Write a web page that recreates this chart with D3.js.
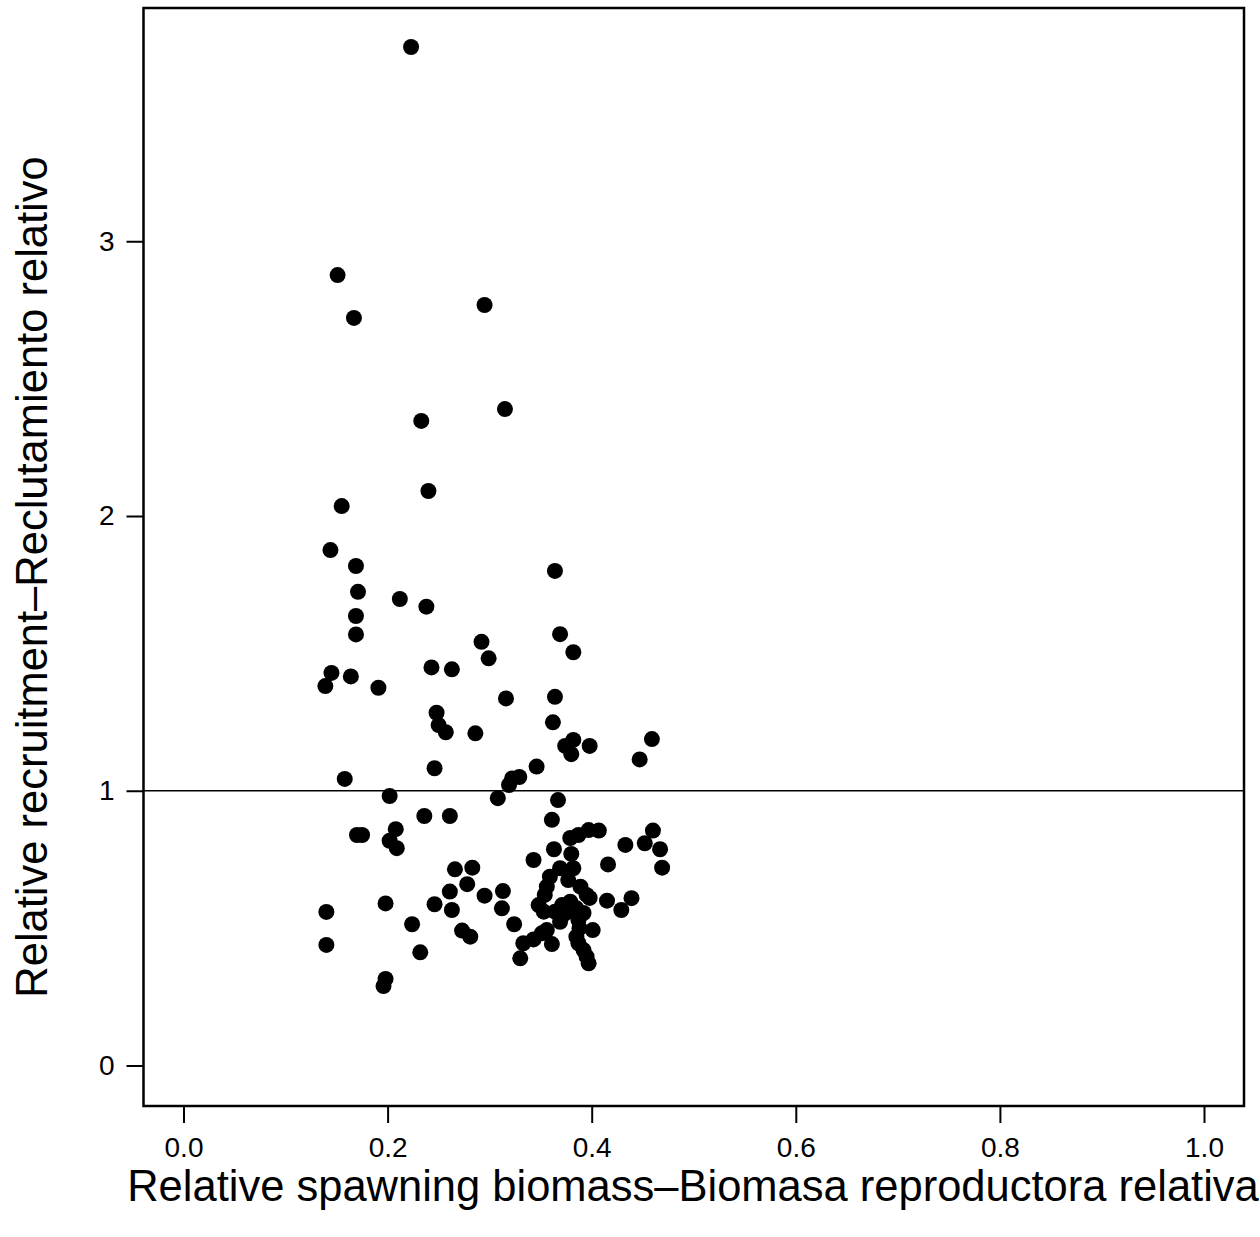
<!DOCTYPE html>
<html>
<head>
<meta charset="utf-8">
<script src="https://cdn.jsdelivr.net/npm/d3@7"></script>
<style>
  body { margin: 0; background: #fff; }
  svg { display: block; }
  text { font-family: "Liberation Sans", Arial, sans-serif; fill: #000; }
</style>
</head>
<body>
<svg id="chart" width="1260" height="1237"></svg>
<script>
// relative spawning biomass (x) and relative recruitment (y)
const biomass = [
  0.223, 0.151, 0.167, 0.295, 0.233, 0.315, 0.240, 0.155, 0.144, 0.169,
  0.364, 0.171, 0.212, 0.238, 0.169, 0.169, 0.369, 0.292, 0.382, 0.299,
  0.243, 0.263, 0.145, 0.139, 0.164, 0.191, 0.316, 0.364, 0.248, 0.250,
  0.257, 0.362, 0.286, 0.459, 0.374, 0.382, 0.380, 0.398, 0.447, 0.346,
  0.246, 0.322, 0.329, 0.319, 0.158, 0.202, 0.308, 0.367, 0.236, 0.261,
  0.170, 0.175, 0.208, 0.202, 0.209, 0.361, 0.379, 0.387, 0.397, 0.407,
  0.460, 0.363, 0.433, 0.452, 0.467, 0.343, 0.380, 0.416, 0.469, 0.382,
  0.369, 0.266, 0.283, 0.278, 0.261, 0.295, 0.313, 0.312, 0.246, 0.263,
  0.198, 0.140, 0.224, 0.273, 0.281, 0.140, 0.232, 0.198, 0.196, 0.324,
  0.359, 0.356, 0.354, 0.377, 0.389, 0.395, 0.398, 0.348, 0.353, 0.371,
  0.379, 0.385, 0.364, 0.374, 0.369, 0.387, 0.392, 0.401, 0.415, 0.429,
  0.439, 0.388, 0.333, 0.343, 0.351, 0.356, 0.361, 0.330, 0.385, 0.387,
  0.392, 0.395, 0.397
];
const recruitment = [
  3.707, 2.877, 2.721, 2.768, 2.346, 2.389, 2.091, 2.036, 1.876, 1.818,
  1.800, 1.724, 1.698, 1.670, 1.636, 1.569, 1.570, 1.542, 1.504, 1.482,
  1.449, 1.442, 1.429, 1.381, 1.416, 1.375, 1.336, 1.342, 1.284, 1.239,
  1.213, 1.249, 1.209, 1.188, 1.163, 1.185, 1.133, 1.163, 1.114, 1.088,
  1.082, 1.045, 1.050, 1.021, 1.043, 0.981, 0.973, 0.966, 0.908, 0.908,
  0.839, 0.839, 0.860, 0.818, 0.791, 0.894, 0.828, 0.839, 0.857, 0.855,
  0.855, 0.787, 0.803, 0.809, 0.787, 0.748, 0.770, 0.732, 0.720, 0.718,
  0.718, 0.714, 0.720, 0.660, 0.633, 0.618, 0.635, 0.572, 0.587, 0.566,
  0.590, 0.559, 0.514, 0.491, 0.469, 0.439, 0.412, 0.315, 0.289, 0.514,
  0.687, 0.651, 0.621, 0.675, 0.651, 0.621, 0.610, 0.584, 0.560, 0.584,
  0.596, 0.572, 0.560, 0.554, 0.523, 0.530, 0.555, 0.493, 0.600, 0.566,
  0.609, 0.500, 0.445, 0.459, 0.481, 0.493, 0.442, 0.390, 0.469, 0.445,
  0.420, 0.396, 0.372
];
const xTicks = [0, 0.2, 0.4, 0.6, 0.8, 1.0];
const yTicks = [0, 1, 2, 3];
const refLine = 1;

const svg = d3.select("#chart");
const box = { left: 143.5, top: 8, right: 1244, bottom: 1106 };

const x = d3.scaleLinear().domain([0, 1]).range([183.5, 1204]);
const y = d3.scaleLinear().domain([0, 3]).range([1065.5, 241.25]);

// x axis
const xAxis = svg.append("g")
    .attr("transform", "translate(0," + box.bottom + ")")
    .call(d3.axisBottom(x).tickValues(xTicks).tickFormat(d3.format(".1f"))
        .tickSize(17).tickPadding(14));
xAxis.select(".domain").remove();
xAxis.selectAll(".tick line").attr("stroke", "#000").attr("stroke-width", 2);
xAxis.selectAll(".tick text").attr("font-size", 28)
    .style("font-family", "'Liberation Sans', Arial, sans-serif");

// y axis
const yAxis = svg.append("g")
    .attr("transform", "translate(" + box.left + ",0)")
    .call(d3.axisLeft(y).tickValues(yTicks).tickFormat(d3.format("d"))
        .tickSize(17).tickPadding(12));
yAxis.select(".domain").remove();
yAxis.selectAll(".tick line").attr("stroke", "#000").attr("stroke-width", 2);
yAxis.selectAll(".tick text").attr("font-size", 28)
    .style("font-family", "'Liberation Sans', Arial, sans-serif");

// reference line at 1
svg.append("line")
    .attr("x1", box.left).attr("x2", box.right)
    .attr("y1", y(refLine)).attr("y2", y(refLine))
    .style("stroke", "#000")
    .style("stroke-width", 1.6);

// points
svg.append("g")
  .selectAll("circle")
  .data(biomass.map((b, i) => [b, recruitment[i]]))
  .join("circle")
    .attr("cx", d => x(d[0]))
    .attr("cy", d => y(d[1]))
    .attr("r", 8)
    .style("fill", "#000");

// frame
svg.append("rect")
    .attr("x", box.left).attr("y", box.top)
    .attr("width", box.right - box.left)
    .attr("height", box.bottom - box.top)
    .style("fill", "none")
    .style("stroke", "#000")
    .style("stroke-width", 2.5);

// axis titles
svg.append("text")
    .attr("x", 693)
    .attr("y", 1201)
    .attr("text-anchor", "middle")
    .attr("font-size", 43.5)
    .text("Relative spawning biomass–Biomasa reproductora relativa");

svg.append("text")
    .attr("transform", "translate(47,577) rotate(-90)")
    .attr("text-anchor", "middle")
    .attr("font-size", 43.5)
    .text("Relative recruitment–Reclutamiento relativo");
</script>
</body>
</html>
